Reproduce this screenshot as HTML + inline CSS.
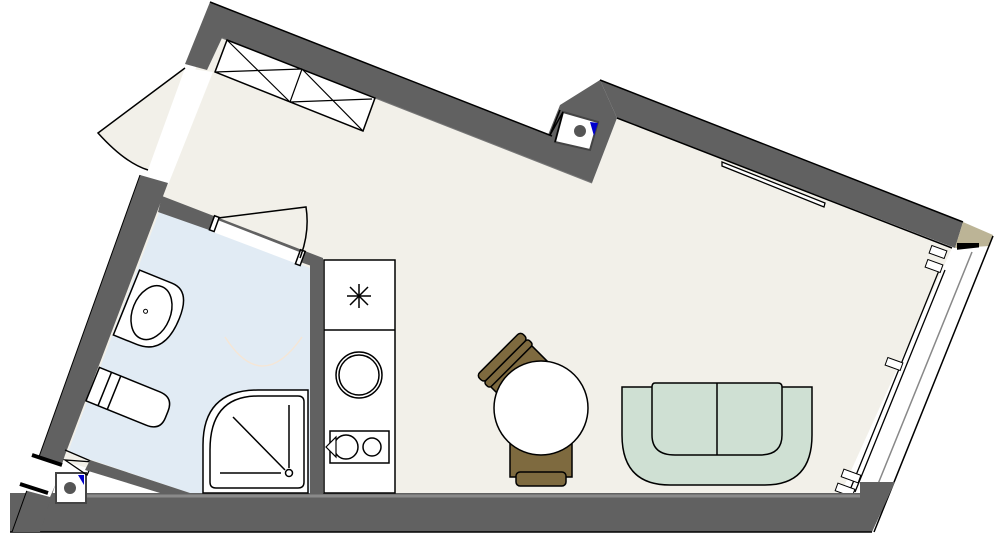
<!DOCTYPE html>
<html><head><meta charset="utf-8"><style>
html,body{margin:0;padding:0;background:#fff;}
svg{display:block;}
</style></head><body>
<svg width="994" height="534" viewBox="0 0 994 534" xmlns="http://www.w3.org/2000/svg">
<!-- floor -->
<polygon points="200,55 222,38 592,183 617,118 952,248 840,495 180,495 60,460 145,190 160,180" fill="#f2f0e9"/>
<!-- bathroom floor -->
<polygon points="160,210 310,268 310,493 190,493 68,452" fill="#e1ebf4"/>
<!-- entry opening -->
<polygon points="185,68 213,72 168,185 145,178" fill="#fff"/>
<path d="M185,68 L98,133 Q125,163 148,170" fill="#f2f0e9" stroke="#000" stroke-width="1.5"/>
<!-- top-left wall -->
<polygon points="210,2 548,135 560,105 600,80 617,118 592,183 222,38 207,70 185,64" fill="#616161"/>
<line x1="210" y1="2" x2="552" y2="136" stroke="#000" stroke-width="1.5"/>
<line x1="222" y1="38" x2="592" y2="183" stroke="#777" stroke-width="1"/>
<!-- top-left window -->
<polygon points="227,40 375,98 363,131 215,72" fill="#fff" stroke="#000" stroke-width="1.5"/>
<line x1="215" y1="72" x2="302" y2="69" stroke="#000" stroke-width="1.2"/>
<line x1="290" y1="102" x2="372" y2="99" stroke="#000" stroke-width="1.2"/>
<line x1="302" y1="69" x2="290" y2="102" stroke="#000" stroke-width="1.2"/>
<line x1="227" y1="40" x2="290" y2="102" stroke="#000" stroke-width="1.2"/>
<line x1="302" y1="69" x2="363" y2="131" stroke="#000" stroke-width="1.2"/>
<!-- shaft near notch -->
<polygon points="563,112 598,122 590,150 555,142" fill="#fff" stroke="#444" stroke-width="2"/>
<circle cx="580" cy="131" r="6" fill="#555"/>
<polygon points="590,122 598,123 594,136" fill="#00c"/>
<polyline points="560,110 550,135 563,112 555,142" fill="none" stroke="#000" stroke-width="1.5"/>
<!-- right-top wall -->
<polygon points="600,80 963,222 955,248 617,118" fill="#616161"/>
<line x1="600" y1="80" x2="963" y2="222" stroke="#000" stroke-width="1.5"/>
<line x1="617" y1="118" x2="952" y2="248" stroke="#000" stroke-width="1.5"/>
<polygon points="722,162 825,203 824,207 722,166" fill="#fff" stroke="#000" stroke-width="1.3"/>
<!-- corner beige -->
<polygon points="963,222 993,235 990,246 955,248" fill="#bcb496"/>
<rect x="957" y="243" width="22" height="7" fill="#000"/>
<!-- right window -->
<polygon points="955,250 992,246 875,532 858,495 840,495" fill="#fff"/>
<line x1="993" y1="236" x2="874" y2="532" stroke="#000" stroke-width="1.5"/>
<line x1="972" y1="252" x2="878" y2="484" stroke="#888" stroke-width="1.5"/>
<line x1="940" y1="268" x2="850" y2="490" stroke="#000" stroke-width="1.3"/>
<line x1="945" y1="270" x2="855" y2="492" stroke="#000" stroke-width="1.3"/>
<rect x="930" y="248" width="16" height="8" fill="#fff" stroke="#000" transform="rotate(20 938 252)"/>
<rect x="926" y="262" width="16" height="8" fill="#fff" stroke="#000" transform="rotate(20 934 266)"/>
<rect x="886" y="360" width="16" height="8" fill="#fff" stroke="#000" transform="rotate(20 894 364)"/>
<rect x="842" y="472" width="18" height="8" fill="#fff" stroke="#000" transform="rotate(20 851 476)"/>
<rect x="836" y="486" width="18" height="8" fill="#fff" stroke="#000" transform="rotate(20 845 490)"/>
<!-- bottom wall -->
<rect x="10" y="493" width="860" height="39" fill="#616161"/>
<line x1="60" y1="496" x2="860" y2="496" stroke="#8a8a8a" stroke-width="3"/>
<polygon points="860,482 895,482 872,532 860,532" fill="#616161"/>
<line x1="10" y1="532" x2="872" y2="532" stroke="#000" stroke-width="1.5"/>
<!-- left wall -->
<polygon points="140,175 168,183 65,455 40,532 12,532" fill="#616161"/>
<line x1="140" y1="175" x2="12" y2="532" stroke="#000" stroke-width="1"/>
<polygon points="32,456 64,465 50,497 20,489" fill="#fff"/>
<line x1="32" y1="455" x2="62" y2="465" stroke="#000" stroke-width="4"/>
<line x1="20" y1="484" x2="48" y2="493" stroke="#000" stroke-width="4"/>
<rect x="56" y="473" width="30" height="30" fill="#fff" stroke="#444" stroke-width="2"/>
<circle cx="70" cy="488" r="6" fill="#555"/>
<polygon points="78,475 84,475 84,485" fill="#00c"/>
<polyline points="65,450 93,462 87,475 65,460 93,462" fill="none" stroke="#000" stroke-width="1.3"/>
<!-- bathroom bottom diag wall -->
<polygon points="90,460 190,493 160,493 85,470" fill="#616161"/>
<!-- bath top wall -->
<polygon points="162,196 323,258 323,270 158,212" fill="#616161"/>
<polygon points="215,219 302,253 300,265 213,232" fill="#fff"/>
<rect x="212" y="216" width="5" height="15" fill="#fff" stroke="#000" stroke-width="1.5" transform="rotate(20 214 223)"/>
<rect x="298" y="250" width="5" height="15" fill="#fff" stroke="#000" stroke-width="1.5" transform="rotate(20 300 257)"/>
<path d="M218,218 L306,207 Q310,232 300,258" fill="none" stroke="#000" stroke-width="1.5"/>
<!-- partition -->
<rect x="310" y="258" width="13" height="235" fill="#616161"/>
<!-- kitchen -->
<rect x="324" y="260" width="71" height="233" fill="#fff" stroke="#000" stroke-width="1.5"/>
<line x1="324" y1="330" x2="395" y2="330" stroke="#000" stroke-width="1.5"/>
<g stroke="#000" stroke-width="1.5"><line x1="359" y1="284" x2="359" y2="308"/><line x1="347" y1="296" x2="371" y2="296"/><line x1="350" y1="287" x2="368" y2="305"/><line x1="368" y1="287" x2="350" y2="305"/></g>
<circle cx="359" cy="375" r="23" fill="#fff" stroke="#000" stroke-width="1.5"/>
<circle cx="359" cy="375" r="20" fill="none" stroke="#000" stroke-width="1.5"/>
<rect x="330" y="431" width="59" height="32" fill="#fff" stroke="#000" stroke-width="1.5"/>
<circle cx="346" cy="447" r="12" fill="none" stroke="#000" stroke-width="1.5"/>
<circle cx="372" cy="447" r="9" fill="none" stroke="#000" stroke-width="1.5"/>
<polygon points="336,437 336,457 326,447" fill="#fff" stroke="#000" stroke-width="1.2"/>
<!-- shower -->
<path d="M203,493 L203,445 Q203,390 258,390 L308,390 L308,493 Z" fill="#fff" stroke="#000" stroke-width="1.5"/>
<path d="M210,480 L210,450 Q210,396 258,396 L298,396 Q304,396 304,402 L304,482 Q304,488 298,488 L216,488 Q210,488 210,482 Z" fill="none" stroke="#000" stroke-width="1.5"/>
<line x1="233" y1="417" x2="285" y2="470" stroke="#000" stroke-width="1.5"/>
<line x1="289" y1="405" x2="289" y2="468" stroke="#000" stroke-width="1.5"/>
<line x1="220" y1="473" x2="281" y2="473" stroke="#000" stroke-width="1.5"/>
<circle cx="289" cy="473" r="3.5" fill="#fff" stroke="#000" stroke-width="1.5"/>
<path d="M225,337 Q262,395 302,337" fill="none" stroke="#f5e6d6" stroke-width="1.5"/>
<!-- sink -->
<g transform="rotate(22 145 310)">
<path d="M125,275 L160,275 Q180,275 180,305 Q180,345 150,345 L125,345 Z" fill="#fff" stroke="#000" stroke-width="1.5"/>
<ellipse cx="152" cy="310" rx="19" ry="28" fill="none" stroke="#000" stroke-width="1.5"/>
<circle cx="146" cy="311" r="2" fill="none" stroke="#000"/>
</g>
<!-- toilet -->
<g transform="rotate(22 127 398)">
<path d="M90,380 L155,380 Q170,380 170,395 L170,402 Q170,416 155,416 L90,416 Z" fill="#fff" stroke="#000" stroke-width="1.5"/>
<line x1="103" y1="380" x2="103" y2="416" stroke="#000" stroke-width="1.5"/>
<line x1="113" y1="380" x2="113" y2="416" stroke="#000" stroke-width="1.5"/>
</g>
<!-- chairs -->
<g transform="translate(2,10) rotate(-45 515 362)" stroke="#000" stroke-width="1.5" fill="#7e6a3f">
<rect x="486" y="340" width="58" height="52" rx="3"/>
<rect x="484" y="336" width="62" height="10" rx="4"/>
<rect x="484" y="346" width="62" height="8" rx="3"/>
</g>
<g stroke="#000" stroke-width="1.5" fill="#7e6a3f">
<rect x="510" y="432" width="62" height="45"/>
<rect x="516" y="472" width="50" height="14" rx="4"/>
</g>
<circle cx="541" cy="408" r="47" fill="#fff" stroke="#000" stroke-width="1.5"/>
<!-- sofa -->
<path d="M622,387 L812,387 L812,435 Q812,485 765,485 L670,485 Q622,485 622,435 Z" fill="#cfe0d3" stroke="#000" stroke-width="1.5"/>
<path d="M655,383 L778,383 Q782,383 782,387 L782,435 Q782,455 760,455 L675,455 Q652,455 652,435 L652,387 Q652,383 655,383 Z" fill="#cfe0d3" stroke="#000" stroke-width="1.5"/>
<line x1="717" y1="383" x2="717" y2="455" stroke="#000" stroke-width="1.5"/>
</svg>
</body></html>
